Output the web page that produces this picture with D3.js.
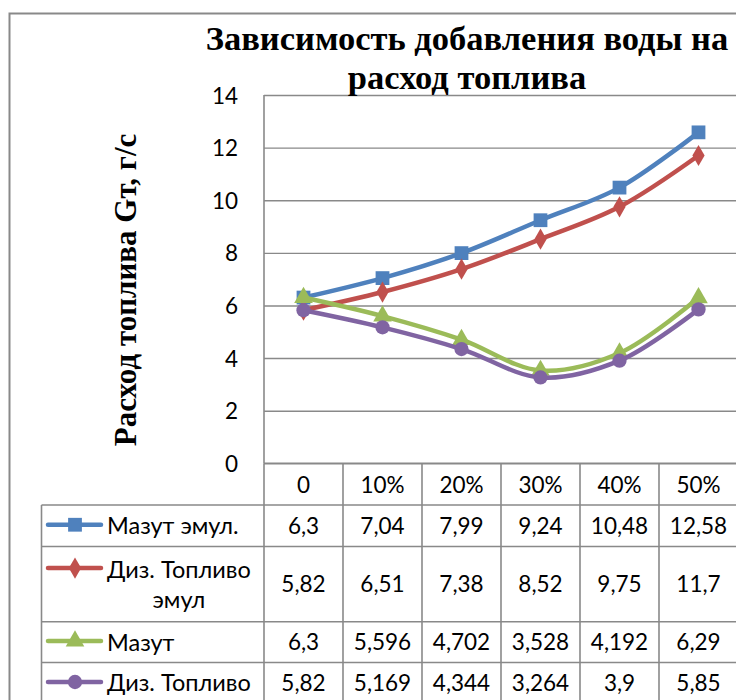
<!DOCTYPE html>
<html>
<head>
<meta charset="utf-8">
<title>Зависимость добавления воды на расход топлива</title>
<script src="https://d3js.org/d3.v7.min.js"></script>
<style>
body { margin: 0; background: #fff; }
#chart { width: 736px; height: 700px; overflow: hidden; }
.title, .y_title { font-family: 'Liberation Serif', 'Times New Roman', serif; font-weight: bold; fill: #000; }
.y_axis text, .tbl text { font-family: Lato, 'Noto Sans', sans-serif; font-size: 22.5px; fill: #000; }
.tbl text.lbl { font-size: 23.5px; }
.y_axis path { display: none; }
.y_axis line { stroke: #898989; stroke-width: 1.4; }
</style>
</head>
<body>
<div id="chart"></div>
<script>

var categories = ["0", "10%", "20%", "30%", "40%", "50%"];

var series_names = ["Мазут эмул.", "Диз. Топливо эмул", "Мазут", "Диз. Топливо"];
var mazut_emul = [6.3, 7.04, 7.99, 9.24, 10.48, 12.58];
var diz_emul = [5.82, 6.51, 7.38, 8.52, 9.75, 11.7];
var mazut = [6.3, 5.596, 4.702, 3.528, 4.192, 6.29];
var diz = [5.82, 5.169, 4.344, 3.264, 3.9, 5.85];

var y_ticks = [0, 2, 4, 6, 8, 10, 12, 14];
var title_lines = ["Зависимость добавления воды на", "расход топлива"];
var y_title = "Расход топлива Gт, г/с";

var colors = ["#4F81BD", "#C0504D", "#9BBB59", "#8064A2"];
var shapes = [d3.symbolSquare, d3.symbolDiamond, d3.symbolTriangle, d3.symbolCircle];
var shape_size = [190, 130, 150, 160];

var all_series = [mazut_emul, diz_emul, mazut, diz];

fmt_num = function(v) { return String(v).replace(".", ","); };

var margin = { top: 95, left: 264 };
var width = 474;
var height = 368.3;

var svg = d3.select("#chart")
            .append("svg")
            .attr("width", 736)
            .attr("height", 700);

// outer chart border (cut off on right and bottom)
svg.append("rect")
   .attr("x", 9.5).attr("y", 13.5)
   .attr("width", 760).attr("height", 720)
   .attr("fill", "none")
   .attr("stroke", "#898989")
   .attr("stroke-width", 2);

var scale_x = d3.scaleBand()
                .domain(categories)
                .range([0, width]);
var scale_y = d3.scaleLinear()
                .domain([0, 14])
                .range([height, 0]);

var chart = svg.append("g")
               .attr("transform", "translate(" + margin.left + "," + margin.top + ")");

var y_axis = d3.axisLeft(scale_y)
               .tickValues(y_ticks)
               .tickSize(-width)
               .tickPadding(26)
               .tickFormat(d3.format("d"));

chart.append("g")
     .attr("class", "y_axis")
     .call(y_axis)
     .selectAll("text")
     .attr("dy", "0.36em");

// left axis line
chart.append("line")
     .attr("x1", 0).attr("x2", 0)
     .attr("y1", 0).attr("y2", height)
     .attr("stroke", "#898989")
     .attr("stroke-width", 1.6);

// title
svg.append("text")
   .attr("class", "title")
   .attr("text-anchor", "middle")
   .attr("font-size", 34.5)
   .selectAll("tspan")
   .data(title_lines)
   .enter()
   .append("tspan")
   .attr("x", 467)
   .attr("y", function(d, i) { return 50 + i * 39; })
   .text(function(d) { return d; });

svg.append("text")
   .attr("class", "y_title")
   .attr("font-size", 31)
   .attr("text-anchor", "middle")
   .attr("transform", "translate(136,290) rotate(-90)")
   .text(y_title);

// lines
var line = d3.line()
             .x(function(d, i) { return scale_x(categories[i]) + scale_x.bandwidth() / 2; })
             .y(function(d) { return scale_y(d); })
             .curve(d3.curveCatmullRom.alpha(0.5));

all_series.forEach(function(s, k) {
  chart.append("path")
       .datum(s)
       .attr("d", line)
       .attr("fill", "none")
       .attr("stroke", colors[k])
       .attr("stroke-width", 4.5)
       .attr("stroke-linejoin", "round");

  chart.selectAll(".m" + k)
       .data(s)
       .enter()
       .append("path")
       .attr("class", "m" + k)
       .attr("d", d3.symbol().type(shapes[k]).size(shape_size[k]))
       .attr("transform", function(d, i) {
         return "translate(" + (scale_x(categories[i]) + scale_x.bandwidth() / 2) + "," + scale_y(d) + ")";
       })
       .attr("fill", colors[k]);
});

// data table
var row_h = [41.7, 41.5, 75.2, 40.8, 41];
var tbl_left = 41.5;
var row_top = [margin.top + height];
row_h.forEach(function(h, i) { row_top.push(row_top[i] + h); });

var tbl = svg.append("g").attr("class", "tbl");
var grid_col = "#898989";

// horizontal lines
row_top.forEach(function(y, i) {
  tbl.append("line")
     .attr("x1", i === 0 ? margin.left : tbl_left)
     .attr("x2", margin.left + width + 2)
     .attr("y1", y).attr("y2", y)
     .attr("stroke", grid_col)
     .attr("stroke-width", 1.6);
});

// vertical lines
categories.forEach(function(c, i) {
  tbl.append("line")
     .attr("x1", margin.left + scale_x(c)).attr("x2", margin.left + scale_x(c))
     .attr("y1", row_top[0]).attr("y2", 710)
     .attr("stroke", grid_col)
     .attr("stroke-width", 1.6);
});
tbl.append("line")
   .attr("x1", tbl_left).attr("x2", tbl_left)
   .attr("y1", row_top[1]).attr("y2", 710)
   .attr("stroke", grid_col)
   .attr("stroke-width", 1.6);

// header row
tbl.selectAll(".hdr")
   .data(categories)
   .enter()
   .append("text")
   .attr("class", "hdr")
   .attr("x", function(d) { return margin.left + scale_x(d) + scale_x.bandwidth() / 2; })
   .attr("y", row_top[0] + row_h[0] / 2 + 1)
   .attr("dy", "0.36em")
   .attr("text-anchor", "middle")
   .text(function(d) { return d; });

var label_w = margin.left - 107 - 4;

all_series.forEach(function(s, k) {
  var top = row_top[k + 1];
  var h = row_h[k + 1];
  var cy = top + h / 2;

  // values
  tbl.selectAll(".v" + k)
     .data(s)
     .enter()
     .append("text")
     .attr("x", function(d, i) { return margin.left + scale_x(categories[i]) + scale_x.bandwidth() / 2; })
     .attr("y", cy)
     .attr("dy", "0.36em")
     .attr("text-anchor", "middle")
     .text(fmt_num);

  // label, wrapped if wider than the column
  var lbl = tbl.append("text").attr("class", "lbl");
  var words = series_names[k].split(" ");
  var lines = [];
  var cur = [];
  var probe = lbl.append("tspan");
  words.forEach(function(w) {
    var test = cur.concat([w]).join(" ");
    probe.text(test);
    if (probe.node().getComputedTextLength() > label_w && cur.length) {
      lines.push(cur.join(" "));
      cur = [w];
    } else {
      cur.push(w);
    }
  });
  lines.push(cur.join(" "));
  probe.remove();

  var line_h = 30;
  var first_y = cy - (lines.length - 1) * line_h / 2;
  var key_y = first_y - 1;

  if (lines.length > 1) {
    var max_w = 0;
    lines.forEach(function(t) {
      var p = lbl.append("tspan").text(t);
      max_w = Math.max(max_w, p.node().getComputedTextLength());
      p.remove();
    });
    lbl.attr("text-anchor", "middle");
    lines.forEach(function(t, j) {
      lbl.append("tspan")
         .attr("x", 107 + max_w / 2)
         .attr("y", first_y + j * line_h)
         .attr("dy", "0.36em")
         .text(t);
    });
  } else {
    lbl.append("tspan").attr("x", 107).attr("y", cy).attr("dy", "0.36em").text(lines[0]);
  }

  // legend key
  tbl.append("line")
     .attr("x1", 48).attr("x2", 101)
     .attr("y1", key_y).attr("y2", key_y)
     .attr("stroke", colors[k])
     .attr("stroke-width", 4.5)
     .attr("stroke-linecap", "round");
  tbl.append("path")
     .attr("d", d3.symbol().type(shapes[k]).size(shape_size[k]))
     .attr("transform", "translate(75," + key_y + ")")
     .attr("fill", colors[k]);
});

</script>
</body>
</html>
